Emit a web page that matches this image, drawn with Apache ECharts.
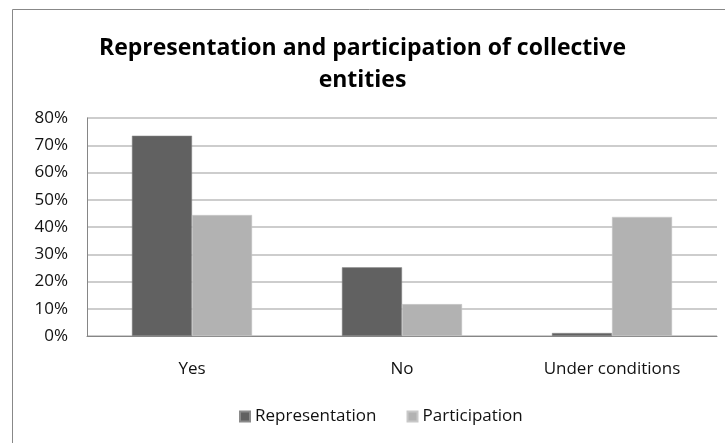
<!DOCTYPE html>
<html><head><meta charset="utf-8">
<script src="https://cdn.jsdelivr.net/npm/echarts@6/dist/echarts.min.js"></script>
<style>html,body{margin:0;padding:0;background:#fff}#c{width:725px;height:443px}</style>
</head><body><div id="c"></div>
<script>
const categories = ['Yes', 'No', 'Under conditions'];
const representation = [73.5, 25.2, 1.1];
const participation = [44.4, 11.7, 43.7];
const yTicks = [0, 10, 20, 30, 40, 50, 60, 70, 80];

const chart = echarts.init(document.getElementById('c'));
const font = 'Open Sans';
chart.setOption({
  animation: false,
  backgroundColor: '#fff',
  title: {
    text: 'Representation and participation of collective\nentities',
    left: 'center', top: 27,
    textStyle: { fontFamily: font, fontSize: 23, fontWeight: 'bold', color: '#000', lineHeight: 32 }
  },
  graphic: [{ type: 'rect', shape: { x: 12.5, y: 9.5, width: 800, height: 600 }, style: { fill: 'none', stroke: '#888', lineWidth: 1 }, silent: true }],
  legend: {
    bottom: 13, left: 234, itemWidth: 10, itemHeight: 10, itemGap: 30,
    icon: 'rect',
    textStyle: { fontFamily: font, fontSize: 17, color: '#111' },
    data: ['Representation', 'Participation']
  },
  grid: { left: 87, right: 8, top: 118, bottom: 107, containLabel: false },
  xAxis: {
    type: 'category', data: categories,
    axisLine: { lineStyle: { color: '#868686' } },
    axisTick: { show: false },
    axisLabel: { fontFamily: font, fontSize: 17, color: '#111', margin: 25 }
  },
  yAxis: {
    type: 'value', min: 0, max: 80, interval: 10,
    axisLine: { show: true, lineStyle: { color: '#868686' } },
    axisTick: { show: false },
    splitLine: { lineStyle: { color: '#bdbdbd', width: 1.5 } },
    axisLabel: { fontFamily: font, fontSize: 17, color: '#111', margin: 19,
      formatter: v => yTicks.includes(v) ? v + '%' : '' }
  },
  series: [
    { name: 'Representation', type: 'bar', data: representation, barGap: 0, barCategoryGap: '42.8%',
      itemStyle: { color: '#616161', borderColor: '#8a8a8a', borderWidth: 0.5 } },
    { name: 'Participation', type: 'bar', data: participation, barGap: 0, barCategoryGap: '42.8%',
      itemStyle: { color: '#b2b2b2', borderColor: '#c8c8c8', borderWidth: 0.5 } }
  ]
});
</script></body></html>
